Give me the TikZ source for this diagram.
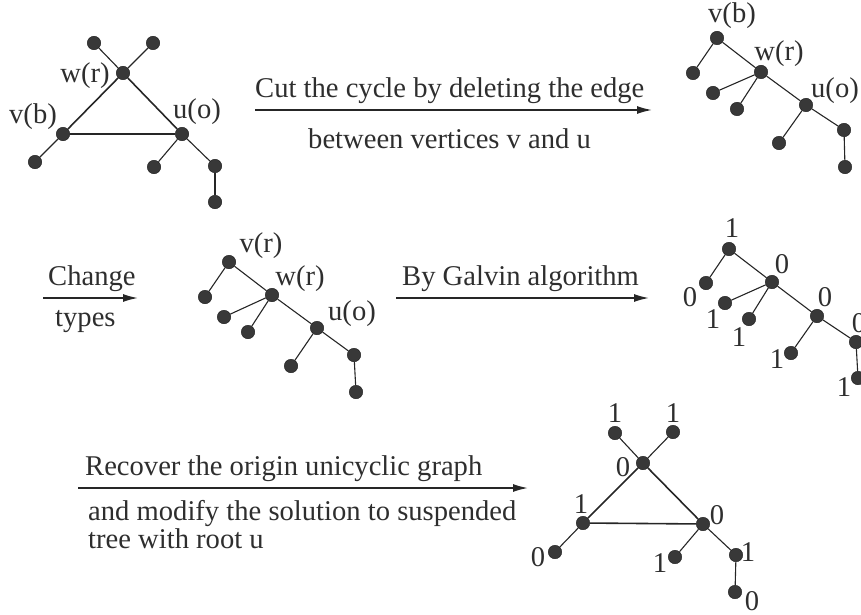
\documentclass[tikz,border=0pt]{standalone}
\usepackage{fontspec}
\setmainfont{Liberation Serif}
\usetikzlibrary{arrows.meta}

\begin{document}
\begin{tikzpicture}[x=1pt, y=-1pt, >={Latex[length=15pt,width=8pt]},
  vtx/.style={circle, draw=black!90, fill=black!78, inner sep=0pt, minimum size=13.5pt},
  txt/.style={font=\fontsize{28.6}{32}\selectfont, text=black!82, inner sep=0pt},
  edge/.style={line width=1.1pt, draw=black!85},
  cyc/.style={line width=1.6pt, draw=black!85},
  flow/.style={line width=1.6pt, ->, draw=black!85}]
\useasboundingbox (0,0) rectangle (861,615);

\node[vtx] (w1) at (123,73) {};
\node[vtx] (v1) at (63,134) {};
\node[vtx] (u1) at (182,134) {};
\node[vtx] (w1a) at (94,43) {};
\node[vtx] (w1b) at (153,43) {};
\node[vtx] (v1a) at (35,162) {};
\node[vtx] (u1a) at (154,167) {};
\node[vtx] (u1b) at (215,166) {};
\node[vtx] (u1c) at (215,202) {};
\draw[cyc] (v1) -- (w1);
\draw[cyc] (w1) -- (u1);
\draw[cyc] (u1) -- (v1);
\draw[edge] (w1) -- (w1a);
\draw[edge] (w1) -- (w1b);
\draw[edge] (v1) -- (v1a);
\draw[edge] (u1) -- (u1a);
\draw[edge] (u1) -- (u1b);
\draw[edge] (u1b) -- (u1c);
\node[txt] (w1l) at (85,76) {w(r)};
\node[txt] (v1l) at (33,117) {v(b)};
\node[txt] (u1l) at (197,112) {u(o)};

\coordinate (c1s) at (255,110);
\coordinate (c1e) at (652,110);
\draw[flow] (c1s) -- (c1e);
\node[txt, anchor=base west] (c1t) at (255,98) {Cut the cycle by deleting the edge};
\node[txt, anchor=base west] (c1b) at (308,148) {between vertices v and u};

\node[vtx] (v2) at (717,38) {};
\node[vtx] (v2a) at (693,73) {};
\node[vtx] (w2) at (761,72) {};
\node[vtx] (w2a) at (713,93) {};
\node[vtx] (w2b) at (737,109) {};
\node[vtx] (u2) at (806,105) {};
\node[vtx] (u2a) at (779,143) {};
\node[vtx] (u2b) at (844,130) {};
\node[vtx] (u2c) at (845,167) {};
\draw[edge] (v2) -- (v2a);
\draw[edge] (v2) -- (w2);
\draw[edge] (w2) -- (w2a);
\draw[edge] (w2) -- (w2b);
\draw[edge] (w2) -- (u2);
\draw[edge] (u2) -- (u2a);
\draw[edge] (u2) -- (u2b);
\draw[edge] (u2b) -- (u2c);
\node[txt] (v2l) at (732,16) {v(b)};
\node[txt] (w2l) at (779,54) {w(r)};
\node[txt] (u2l) at (835,91) {u(o)};

\coordinate (c2s) at (43,298);
\coordinate (c2e) at (138,298);
\draw[flow] (c2s) -- (c2e);
\node[txt, anchor=base west] (c2t) at (48,285) {Change};
\node[txt, anchor=base west] (c2b) at (55,326) {types};

\node[vtx] (v3) at (229,262) {};
\node[vtx] (v3a) at (205,297) {};
\node[vtx] (w3) at (272,295) {};
\node[vtx] (w3a) at (224,317) {};
\node[vtx] (w3b) at (248,332) {};
\node[vtx] (u3) at (317,328) {};
\node[vtx] (u3a) at (291,366) {};
\node[vtx] (u3b) at (354,355) {};
\node[vtx] (u3c) at (356,392) {};
\draw[edge] (v3) -- (v3a);
\draw[edge] (v3) -- (w3);
\draw[edge] (w3) -- (w3a);
\draw[edge] (w3) -- (w3b);
\draw[edge] (w3) -- (u3);
\draw[edge] (u3) -- (u3a);
\draw[edge] (u3) -- (u3b);
\draw[edge] (u3b) -- (u3c);
\node[txt] (v3l) at (261,246) {v(r)};
\node[txt] (w3l) at (300,279) {w(r)};
\node[txt] (u3l) at (352,314) {u(o)};

\coordinate (c3s) at (396,298);
\coordinate (c3e) at (649,298);
\draw[flow] (c3s) -- (c3e);
\node[txt, anchor=base west] (c3t) at (402,285) {By Galvin algorithm};

\node[vtx] (v4) at (729,249) {};
\node[vtx] (v4a) at (706,283) {};
\node[vtx] (w4) at (772,282) {};
\node[vtx] (w4a) at (725,303) {};
\node[vtx] (w4b) at (749,319) {};
\node[vtx] (u4) at (817,316) {};
\node[vtx] (u4a) at (791,353) {};
\node[vtx] (u4b) at (856,342) {};
\node[vtx] (u4c) at (858,378) {};
\draw[edge] (v4) -- (v4a);
\draw[edge] (v4) -- (w4);
\draw[edge] (w4) -- (w4a);
\draw[edge] (w4) -- (w4b);
\draw[edge] (w4) -- (u4);
\draw[edge] (u4) -- (u4a);
\draw[edge] (u4) -- (u4b);
\draw[edge] (u4b) -- (u4c);
\node[txt] (v4l) at (732,228) {1};
\node[txt] (v4al) at (690,297) {0};
\node[txt] (w4l) at (782,264) {0};
\node[txt] (w4al) at (713,319) {1};
\node[txt] (w4bl) at (739,337) {1};
\node[txt] (u4l) at (825,297) {0};
\node[txt] (u4al) at (777,359) {1};
\node[txt] (u4bl) at (859,323) {0};
\node[txt] (u4cl) at (844,387) {1};

\coordinate (c4s) at (78,488);
\coordinate (c4e) at (528,488);
\draw[flow] (c4s) -- (c4e);
\node[txt, anchor=base west] (c4t) at (85,475) {Recover the origin unicyclic graph};
\node[txt, anchor=base west] (c4b) at (88,520) {and modify the solution to suspended};
\node[txt, anchor=base west] (c4c) at (88,548) {tree with root u};

\node[vtx] (w5) at (643,463) {};
\node[vtx] (v5) at (583,523) {};
\node[vtx] (u5) at (703,524) {};
\node[vtx] (w5a) at (615,433) {};
\node[vtx] (w5b) at (673,432) {};
\node[vtx] (v5a) at (555,552) {};
\node[vtx] (u5a) at (675,557) {};
\node[vtx] (u5b) at (736,555) {};
\node[vtx] (u5c) at (735,592) {};
\draw[cyc] (v5) -- (w5);
\draw[cyc] (w5) -- (u5);
\draw[cyc] (u5) -- (v5);
\draw[edge] (w5) -- (w5a);
\draw[edge] (w5) -- (w5b);
\draw[edge] (v5) -- (v5a);
\draw[edge] (u5) -- (u5a);
\draw[edge] (u5) -- (u5b);
\draw[edge] (u5b) -- (u5c);
\node[txt] (w5al) at (615,413) {1};
\node[txt] (w5bl) at (673,413) {1};
\node[txt] (w5l) at (623,467) {0};
\node[txt] (v5l) at (581,504) {1};
\node[txt] (u5l) at (717,515) {0};
\node[txt] (v5al) at (538,557) {0};
\node[txt] (u5al) at (660,563) {1};
\node[txt] (u5bl) at (748,552) {1};
\node[txt] (u5cl) at (752,601) {0};
\end{tikzpicture}
\end{document}
